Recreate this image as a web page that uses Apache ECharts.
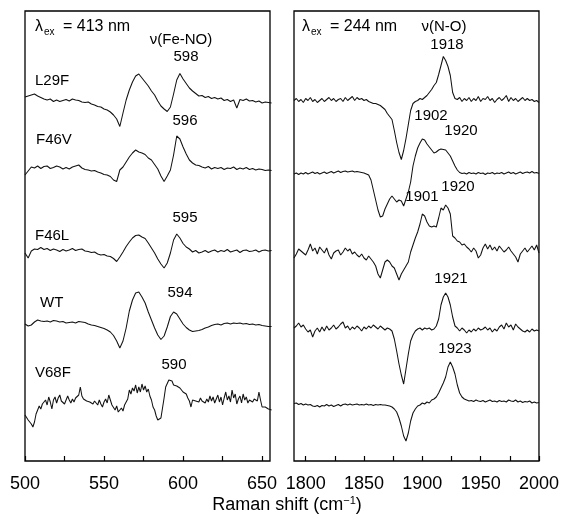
<!DOCTYPE html>
<html>
<head>
<meta charset="utf-8">
<script src="https://cdn.jsdelivr.net/npm/echarts@6/dist/echarts.min.js"></script>
<style>
html,body{margin:0;padding:0;background:#fff;}
#chart{width:562px;height:518px;}
</style>
</head>
<body>
<div id="chart"></div>
<script>
// ---------- DATA ----------
var leftStart = 500, leftStep = 2;       // cm-1
var v68fStep = 1;                          // V68F low-frequency trace sampled at 1 cm-1
var rightStart = 1790, rightStep = 2;

var traceNames = ['L29F', 'F46V', 'F46L', 'WT', 'V68F'];
var leftOffsets = [362, 292, 210, 137, 59];
var rightOffsets = [360.5, 287, 209, 132, 56];

var feNO_L29F = [2,3,4,5,3,1.5,0,-1,0,-2.5,
  -1,-2.5,-1.5,-0.5,-2,0,-1,-1.5,-3,-3.5,
  -3,-5,-6,-7.5,-8,-10,-11,-13,-16,-20,
  -27.5,-14,-1,9,17,23,25,21,17,13,
  8,4,-2,-7,-10,-12.5,-8,5,19,25.5,
  20,15.5,11,8,5.5,3,3.5,1.5,2.5,0.5,
  1.5,0,1,-1.5,-0.5,-2.5,-1,-9,-0.5,-1.5,
  0,-2,-1.5,-3,-2,-4,-3,-3.5,-4];
var feNO_F46V = [-6,-2,2,1,3,0.5,2.5,3,0.5,1.5,
  3,2,0,1.5,0,2,3,4,1,-0.5,
  -1,-2,-1.5,-3,-4,-5.5,-6,-7.5,-11,-12.5,
  -1,2,7,12,16,19,17,16,14.5,11,
  9,4.5,0,-7,-12.5,-7,-1,14,33,30,
  22,15,9,6,4,3.5,2,1,2.5,0,
  1.5,0.5,1.5,-0.5,1,0.5,2,-0.5,1,0,
  1.5,-0.5,0.5,-1,0,-0.5,-1.5,-1,-1.5];
var feNO_F46L = [-2,-7,0,2,1.5,3.5,1.5,2.5,0.5,2,
  1,-0.5,1.5,0,1,2.5,0.5,1.5,2,0,
  -0.5,-1.5,-1,-3,-4,-3.5,-5,-5.5,-7.5,-10.5,
  -6,-1,4.5,9,13,15.5,16,14,12.5,8,
  3,-2,-8,-13,-17,-12,-2,11,17,13,
  7.5,4,2,-1,0.5,-2,-1,0.5,-1.5,0,
  1,-1,0.5,-0.5,1.5,-1,0,1,-1.5,0.5,
  1,-0.5,0,1,-1,0.5,1,0,0.5];
var feNO_WT = [0,-2,-1,2,4,3,2.5,3,2,3.5,
  3,2,2.5,1,1.5,2,1,2.5,2,1.5,
  0,-1,-1.5,-2.5,-3.5,-4.5,-6,-8,-11.5,-17,
  -24,-17,-4,13,24,31,32,27,21,12,
  4,-4,-11,-15.5,-12,-3,7.5,12,10,5,
  0,-3.5,-6,-7.5,-7,-6.5,-5.5,-4,-3,-1.5,
  -0.5,0,-1,0.5,1,0,1,0.5,1,0,
  0.5,-0.5,0,-1,-0.5,-1.5,-2,-2.5,-2.5];
var feNO_V68F = [-13,-15,-18,-16,-22,-25,-20,-12,-8,-4,
  -7,-2,-4,2,-3,5,0,-7,2,5,
  -1,4,7,1,3,-2,-1,6,2,-1,
  3,0,4,2,7,15,6,3,5,1,
  3,0,2,-2,1,0,-3,2,-2,-5,
  0,3,-1,7,5,-3,-1,-8,-4,-10,
  -12,-6,-9,-3,-4,3,12,8,14,11,
  17,9,15,10,18,12,16,10,13,6,
  2,-5,-8,-14,-18,-20,-16,-6,4,15,
  17,22,20,21,17,19,16,18,14,15,
  10,12,8,4,1,-5,2,4,1,3,
  0,4,1,2,-1,3,0,6,1,5,
  -1,3,7,0,5,-3,4,10,2,6,
  0,12,4,8,-2,3,6,-1,8,2,
  5,-1,2,4,0,3,5,1,10,2,
  -5,-4,-5,-6,-7,-7,-8];

var NO_L29F = [0,2,-1,1,-2,2,0,3,-1,1,
  -2,0,2,-1,1,3,0,2,-1,1,
  2,-1,3,0,2,4,0,3,1,2,
  0,1,-1,-2,-3,-3,-4,-5,-7,-9,
  -13,-16,-19,-30,-42,-52,-59,-50,-38,-24,
  -10,-3,-1,0,2,1,3,5,8,11,
  15,18,26,35,44,40,34,25,8,2,
  1,3,-1,2,0,3,-1,2,0,4,
  -1,2,1,4,0,2,-2,1,3,0,
  2,5,-1,3,0,2,-1,1,3,0,
  2,0,1,-1,0,-2];
var NO_F46V = [0,1,-0.5,1,0,1.5,0,1,2,0.5,
  1.5,0,1,2,0.5,1.5,2.5,1,2,3,
  1.5,2.5,3,2,2.5,3,2,2.5,2,1.5,
  1,0,-1,-6,-16,-26,-36,-43,-42,-35,
  -30,-25,-22,-25,-28,-26,-27,-32,-25,-18,
  -8,8,18,26,31,35,34,30,27,24,
  21,22,24,25,24.5,24,21,18,13,8,
  4,1.5,0.5,1,0,1.5,0.5,1,0,1.5,
  0.5,1,-0.5,1,0.5,1.5,0,1,0.5,1.5,
  0,1,2,0.5,1.5,0,1,2,0.5,1.5,
  2,1,2.5,1,1.5,0.5];
var NO_F46L = [-6,-2,3,1,-1,-3,2,8,1,4,
  -2,5,2,-1,4,-3,-7,-1,1,2,
  -3,0,4,1,3,-2,0,-3,-5,-2,
  -6,-8,-4,-7,-10,-14,-22,-26,-18,-10,
  -8,-10,-14,-16,-22,-28,-22,-18,-14,-10,
  0,7,14,20,28,38,36,30,26,25,
  26,25,34,44,42,47,44,38,16,14,
  11,10,7,8,5,3,0,4,1,-6,
  -3,4,8,3,7,2,5,1,6,3,
  0,2,5,1,-2,-5,-10,-2,1,4,
  0,3,6,2,7,-1];
var NO_WT = [1,3,6,2,4,0,-3,-1,-8,-2,
  1,-3,2,-2,3,-1,1,4,0,2,
  5,7,1,3,-1,2,0,3,1,-2,
  2,0,3,1,4,2,0,3,1,-1,
  1,0,-2,-10,-22,-35,-46,-55,-40,-25,
  -12,-6,-2,0,1,-1,1,0,1,-1,
  0,3,10,24,32,36,32,24,12,3,
  1,-2,1,-1,-4,-1,-3,0,-2,1,
  -1,0,2,-1,1,-3,0,-2,2,4,
  0,6,2,4,-1,5,2,0,-2,-3,
  -1,-3,0,-2,-1,-2];
var NO_V68F = [1.5,2,0.5,1.5,0,1,0,0.5,-1,-1.5,
  -0.5,-2,-0.5,-1,0.5,-1,0,-1.5,-0.5,0.5,
  -1,0.5,1,0,1,0,0.5,1,0,0.5,
  0,1,0,0.5,-0.5,0.5,0,0.5,0,0,
  -0.5,-1,-2,-4,-7,-13,-21,-31,-36,-28,
  -16,-8,-4,-1,0,2,1,3,2,5,
  6,8,12,17,22,28,38,43,38,31,
  20,12,8,6,5,4,4.5,3.5,5,4,
  3.5,4.5,3,4,5,3.5,4,3,4.5,3.5,
  4,3,5,4,3.5,5,3,4,2.5,3.5,
  3,4,2,3,2,2.5];

var leftTicks = [500,525,550,575,600,625,650];
var leftLabels = [500,550,600,650];
var rightTicks = [1800,1825,1850,1875,1900,1925,1950,1975,2000];
var rightLabels = [1800,1850,1900,1950,2000];

var leftPeakLabels = ['598','596','595','594','590'];
var rightPeakLabels = ['1918','1902','1920','1920','1901','1921','1923'];

// ---------- BUILD ----------
var FONT = "'Liberation Sans', Arial, Helvetica, sans-serif";
function toPairs(vals, start, step, offset) {
  return vals.map(function (v, i) { return [start + i * step, offset + v]; });
}
var leftTraces = [feNO_L29F, feNO_F46V, feNO_F46L, feNO_WT, feNO_V68F];
var leftSteps = [leftStep, leftStep, leftStep, leftStep, v68fStep];
var rightTraces = [NO_L29F, NO_F46V, NO_F46L, NO_WT, NO_V68F];

var series = [];
leftTraces.forEach(function (t, i) {
  series.push({
    name: traceNames[i] + ' Fe-NO', type: 'line', xAxisIndex: 0, yAxisIndex: 0,
    data: toPairs(t, leftStart, leftSteps[i], leftOffsets[i]),
    showSymbol: false, symbol: 'none', clip: true,
    lineStyle: { color: '#111', width: 1.05 }, silent: true
  });
});
rightTraces.forEach(function (t, i) {
  series.push({
    name: traceNames[i] + ' N-O', type: 'line', xAxisIndex: 1, yAxisIndex: 1,
    data: toPairs(t, rightStart, rightStep, rightOffsets[i]),
    showSymbol: false, symbol: 'none', clip: true,
    lineStyle: { color: '#111', width: 1.05 }, silent: true
  });
});

function xAxisDef(grid, min, max, ticks, labels) {
  return {
    gridIndex: grid, type: 'value', min: min, max: max,
    axisLine: { show: false },
    axisTick: { show: true, inside: true, length: 5, customValues: ticks,
      lineStyle: { color: '#000', width: 1.2 } },
    axisLabel: { show: true, customValues: labels, margin: 14,
      formatter: function (v) { return String(v); },
      fontSize: 18, color: '#000', fontFamily: FONT, showMinLabel: true, showMaxLabel: true },
    splitLine: { show: false }
  };
}

function txt(x, y, s, size, align) {
  return { type: 'text', x: x, y: y, silent: true,
    style: { text: s, font: size + 'px ' + FONT, fill: '#000',
      align: align || 'center', verticalAlign: 'middle' } };
}

var gfx = [];
// left panel headers
gfx.push(txt(35, 27, 'λ', 16, 'left'));
gfx.push(txt(44, 32, 'ex', 10, 'left'));
gfx.push(txt(63, 27, '= 413 nm', 16, 'left'));
gfx.push(txt(181, 40, 'ν(Fe-NO)', 15, 'center'));
// right panel headers
gfx.push(txt(302, 27, 'λ', 16, 'left'));
gfx.push(txt(311, 32, 'ex', 10, 'left'));
gfx.push(txt(330, 27, '= 244 nm', 16, 'left'));
gfx.push(txt(444, 27, 'ν(N-O)', 15, 'center'));

var leftNamePos = [[35, 81], [36, 140], [35, 236], [40, 303], [35, 373]];
var leftPeakPos = [[186, 57], [185, 121], [185, 218], [180, 293], [174, 365]];
traceNames.forEach(function (n, i) {
  gfx.push(txt(leftNamePos[i][0], leftNamePos[i][1], n, 15, 'left'));
  gfx.push(txt(leftPeakPos[i][0], leftPeakPos[i][1], leftPeakLabels[i], 15, 'center'));
});
var rightPeakPos = [[447, 45], [431, 116], [461, 131], [458, 187], [422, 197], [451, 279], [455, 349]];
rightPeakLabels.forEach(function (s, i) {
  gfx.push(txt(rightPeakPos[i][0], rightPeakPos[i][1], s, 15, 'center'));
});
// axis title with superscript
gfx.push({ type: 'text', x: 287, y: 505, silent: true,
  style: { text: 'Raman shift (cm{sup|−1})', font: '18px ' + FONT, fill: '#000',
    align: 'center', verticalAlign: 'middle',
    rich: { sup: { fontSize: 11, fontFamily: FONT, verticalAlign: 'top', fill: '#000', lineHeight: 20 } } } });

var option = {
  animation: false,
  backgroundColor: '#fff',
  grid: [
    { left: 25, top: 11, width: 245, height: 450, show: true, borderColor: '#000', borderWidth: 1.3, backgroundColor: 'transparent', containLabel: false },
    { left: 294, top: 11, width: 245, height: 450, show: true, borderColor: '#000', borderWidth: 1.3, backgroundColor: 'transparent', containLabel: false }
  ],
  xAxis: [
    xAxisDef(0, 500, 655, leftTicks, leftLabels),
    xAxisDef(1, 1790, 2000, rightTicks, rightLabels)
  ],
  yAxis: [
    { gridIndex: 0, type: 'value', min: 0, max: 450, show: false, splitLine: { show: false } },
    { gridIndex: 1, type: 'value', min: 0, max: 450, show: false, splitLine: { show: false } }
  ],
  series: series,
  graphic: gfx
};

var chart = echarts.init(document.getElementById('chart'), null, { renderer: 'canvas' });
chart.setOption(option);
</script>
</body>
</html>
